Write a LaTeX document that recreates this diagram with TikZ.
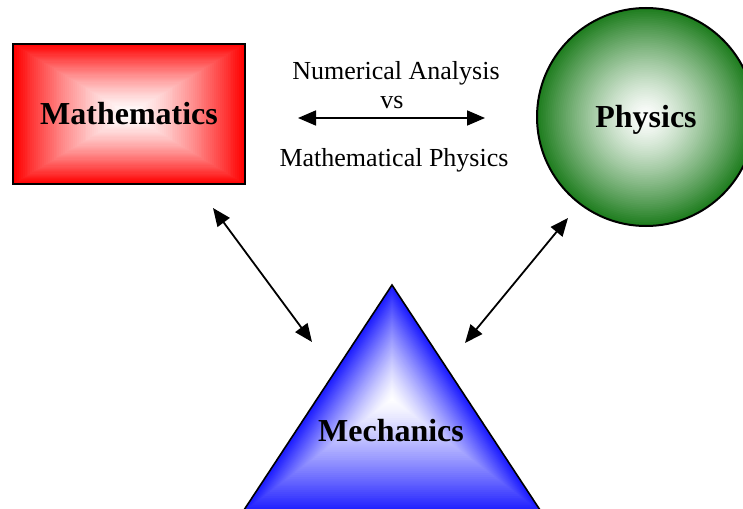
\documentclass[tikz,border=0pt]{standalone}
\usepackage{fontspec}
\setmainfont{Liberation Serif}
\usetikzlibrary{arrows.meta,calc}
\definecolor{mred}{RGB}{255,0,0}
\definecolor{pgreen}{RGB}{30,125,30}
\definecolor{mblue}{RGB}{25,25,255}
\tikzset{
  biarrow/.style={line width=1.8pt,{Triangle[length=18pt,width=15pt]}-{Triangle[length=18pt,width=15pt]}},
  plainlabel/.style={font=\fontsize{26}{30}\selectfont, inner sep=0pt},
  boldlabel/.style={font=\fontsize{32}{36}\selectfont\bfseries, inner sep=0pt},
}
\begin{document}
\begin{tikzpicture}[x=1pt,y=-1pt]
\useasboundingbox (0,0) rectangle (743,508);
\clip (0,0) rectangle (743,508);

% ---- Mathematics rectangle gradient (from centre)
\coordinate (rc) at (129,114);
\foreach \i in {0,...,60}{
  \pgfmathsetmacro\s{1-\i/60}
  \pgfmathsetmacro\p{100*(1-\i/60)^1.4}
  \fill[mred!\p!white] ($(rc)+(-116*\s,-70*\s)$) rectangle ($(rc)+(116*\s,70*\s)$);
}
\node[boldlabel, draw, line width=2.6pt, minimum width=232pt, minimum height=140pt] (math) at (rc) {};
\node[boldlabel] (mathlbl) at (129,114) {Mathematics};

% ---- Physics circle
\coordinate (pc) at (646,117);
\foreach \i in {0,...,60}{
  \pgfmathsetmacro\s{109*(1-\i/60)}
  \pgfmathsetmacro\p{100*(1-\i/60)^1.3}
  \fill[pgreen!\p!white] (pc) circle (\s pt);
}
\node[draw, circle, line width=2pt, minimum size=218pt, inner sep=0pt] (phys) at (pc) {};
\node[boldlabel] (physlbl) at (646,120) {Physics};

% ---- Mechanics triangle
\coordinate (ta) at (392,285);
\coordinate (tb) at (242,513);
\coordinate (tc) at (542,513);
\coordinate (to) at (392,399);
\foreach \i in {0,...,60}{
  \pgfmathsetmacro\s{1-\i/60}
  \pgfmathsetmacro\p{100*(1-\i/60)^1.3}
  \fill[mblue!\p!white] ($(to)!\s!(ta)$) -- ($(to)!\s!(tb)$) -- ($(to)!\s!(tc)$) -- cycle;
}
\draw[line width=1.6pt, line join=miter] (ta) -- (tb) -- (tc) -- cycle;
\node[boldlabel] (mech) at (391,431) {Mechanics};

% ---- central texts
\node[plainlabel] (na) at (396,73) {Numerical Analysis};
\node[plainlabel] (vs) at (392,103) {vs};
\node[plainlabel] (mp) at (394,160) {Mathematical Physics};

% ---- arrows
\coordinate (h1) at (298,118);
\coordinate (h2) at (485,118);
\coordinate (m1) at (213,208);
\coordinate (m2) at (312,342);
\coordinate (p1) at (568,218);
\coordinate (p2) at (465,343);
\draw[biarrow] (h1) -- (h2);
\draw[biarrow] (m1) -- (m2);
\draw[biarrow] (p1) -- (p2);
\end{tikzpicture}
\end{document}
